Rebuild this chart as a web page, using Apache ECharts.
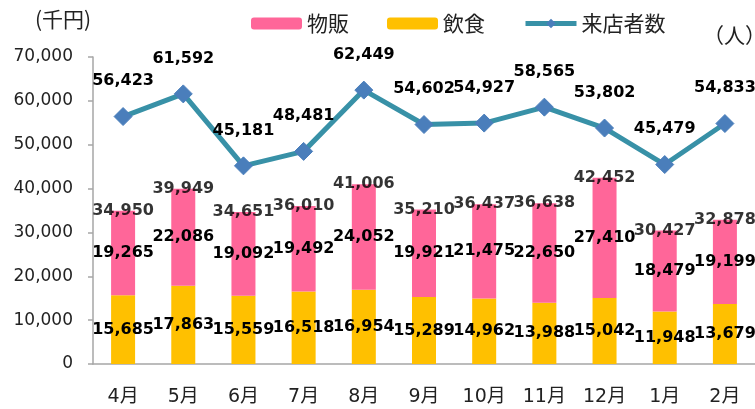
<!DOCTYPE html>
<html>
<head>
<meta charset="utf-8">
<script src="https://cdn.jsdelivr.net/npm/echarts@6/dist/echarts.min.js"></script>
<style>
  html, body { margin: 0; padding: 0; background: #fff; }
  #chart { width: 755px; height: 409px; }
</style>
</head>
<body>
<div id="chart"></div>
<script>
// 月別データ
var months = ['4月', '5月', '6月', '7月', '8月', '9月', '10月', '11月', '12月', '1月', '2月'];
var food = [15685, 17863, 15559, 16518, 16954, 15289, 14962, 13988, 15042, 11948, 13679];   // 飲食
var goods = [19265, 22086, 19092, 19492, 24052, 19921, 21475, 22650, 27410, 18479, 19199];  // 物販
var totals = [34950, 39949, 34651, 36010, 41006, 35210, 36437, 36638, 42452, 30427, 32878];
var visitors = [56423, 61592, 45181, 48481, 62449, 54602, 54927, 58565, 53802, 45479, 54833]; // 来店者数

var FONT = '"DejaVu Sans", "Noto Sans CJK JP", sans-serif';
var fmt = function (p) { return Number(p.value).toLocaleString('en-US'); };
var valLabel = { show: true, color: '#000', fontWeight: 'bold', fontSize: 16, fontFamily: FONT, formatter: fmt };

var myChart = echarts.init(document.getElementById('chart'));
var option = {
  animation: false,
  textStyle: { fontFamily: FONT },
  legend: {
    data: ['物販', '飲食', '来店者数'],
    left: 246,
    top: 8,
    itemWidth: 51,
    itemHeight: 12,
    itemGap: 38,
    lineStyle: { width: 5 },
    textStyle: { fontSize: 21, color: '#222', fontFamily: '"Noto Sans CJK JP", sans-serif' }
  },
  graphic: [
    { type: 'text', left: 35, top: 9, style: { text: '(千円)', fill: '#222', font: '21px "Noto Sans CJK JP"' } },
    { type: 'text', left: 703, top: 25, style: { text: '（人）', fill: '#222', font: '21px "Noto Sans CJK JP"' } }
  ],
  grid: { left: 93, top: 57, width: 671, bottom: 45 },
  xAxis: {
    type: 'category',
    data: months,
    axisLine: { lineStyle: { color: '#a6a6a6', width: 1.5 } },
    axisTick: { length: 6, lineStyle: { color: '#a6a6a6', width: 1.5 } },
    axisLabel: { fontSize: 19, color: '#222', margin: 24, fontFamily: FONT }
  },
  yAxis: [
    {
      type: 'value', min: 0, max: 70000, interval: 10000,
      axisLine: { show: true, lineStyle: { color: '#a6a6a6', width: 1.5 } },
      axisTick: { show: true, length: 5, lineStyle: { color: '#a6a6a6', width: 1.5 } },
      splitLine: { show: false },
      axisLabel: { fontSize: 17, color: '#222', margin: 20, fontFamily: FONT,
        formatter: function (v) { return v.toLocaleString('en-US'); } }
    },
    {
      type: 'value', min: 0, max: 70000, interval: 10000, position: 'right',
      axisLine: { show: false }, axisTick: { show: false },
      axisLabel: { show: false }, splitLine: { show: false }
    }
  ],
  series: [
    {
      name: '飲食', type: 'bar', stack: 'sales', data: food, barWidth: 24,
      itemStyle: { color: '#ffc000' },
      label: Object.assign({ position: 'inside' }, valLabel)
    },
    {
      name: '物販', type: 'bar', stack: 'sales', data: goods, barWidth: 24,
      itemStyle: { color: '#ff6699' },
      label: Object.assign({ position: 'inside' }, valLabel)
    },
    {
      name: '合計', type: 'scatter', data: totals, symbolSize: 0, silent: true, z: 5,
      label: Object.assign({ position: 'inside' }, valLabel)
    },
    {
      name: '来店者数', type: 'line', yAxisIndex: 1, data: visitors, z: 10,
      symbol: 'diamond', symbolSize: 18,
      lineStyle: { color: '#3891a7', width: 5 },
      itemStyle: { color: '#4a7ebb', borderColor: '#4a7ebb' },
      label: Object.assign({ position: 'top', distance: 18 }, valLabel)
    }
  ]
};
option && myChart.setOption(option);
</script>
</body>
</html>
